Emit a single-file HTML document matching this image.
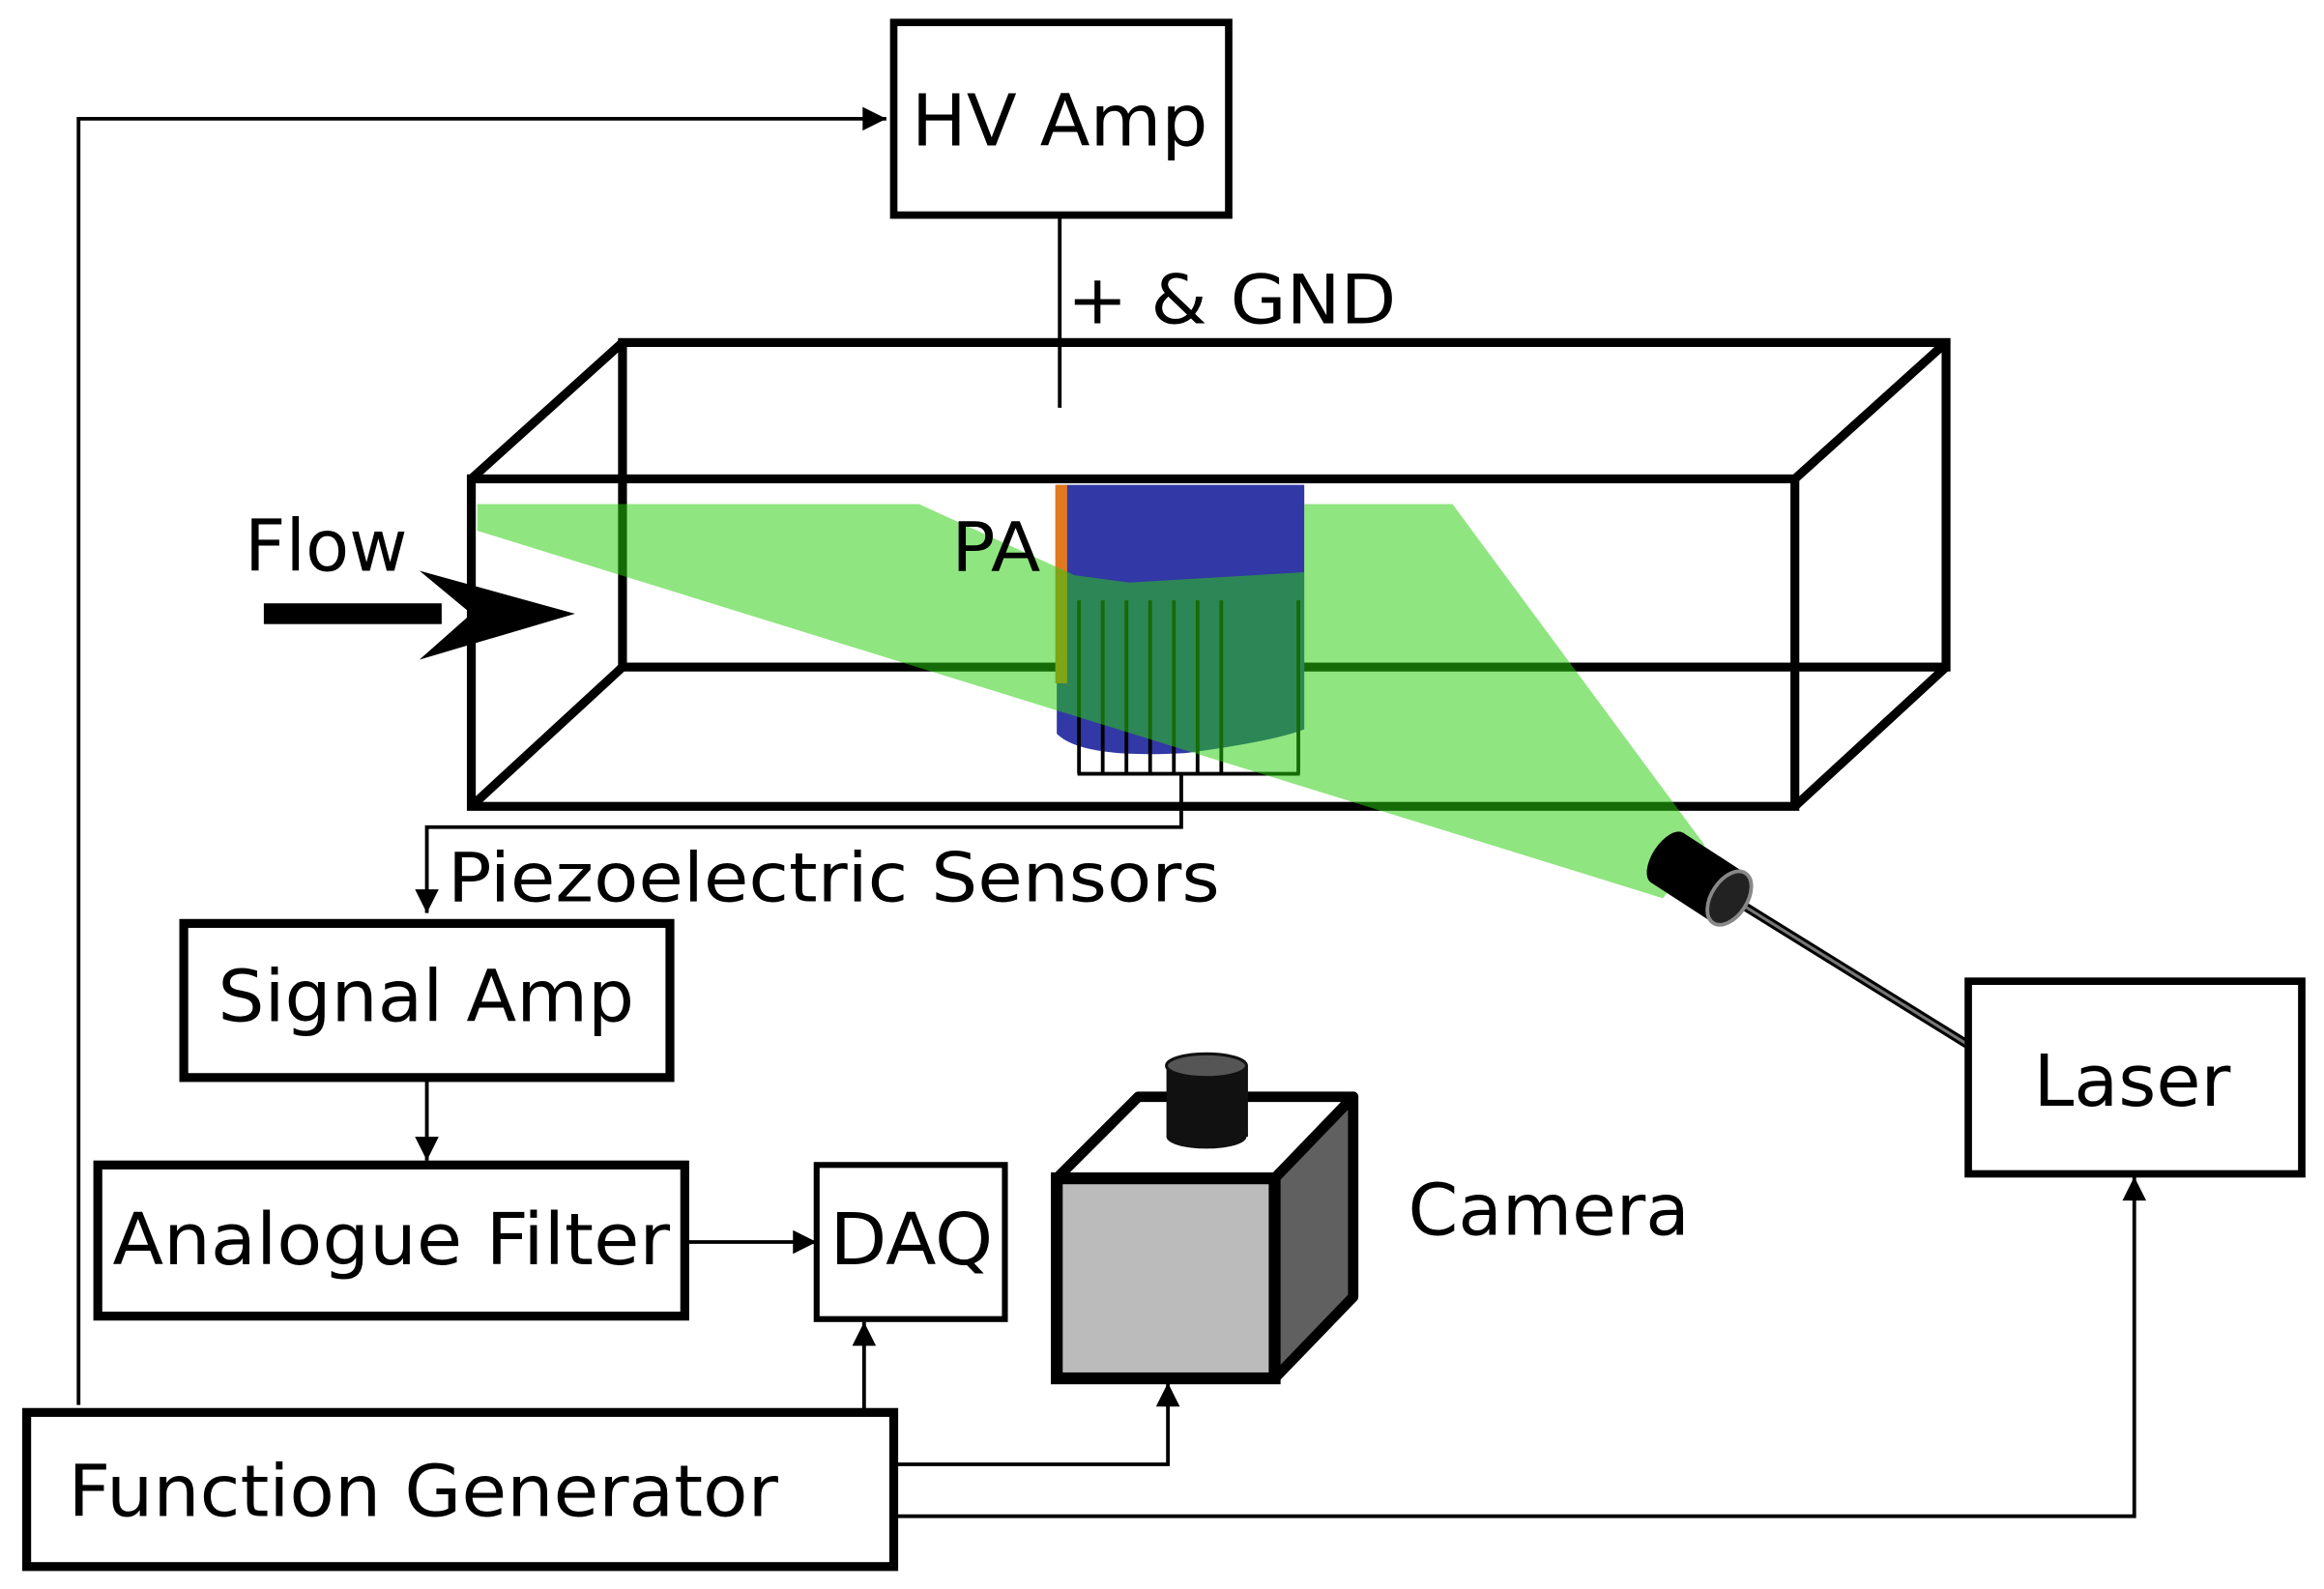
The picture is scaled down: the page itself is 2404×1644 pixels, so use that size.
<!DOCTYPE html>
<html><head><meta charset="utf-8"><style>html,body{margin:0;padding:0;background:#fff}svg{display:block}</style></head>
<body>
<svg width="2404" height="1644" viewBox="0 0 1568 1072" xmlns="http://www.w3.org/2000/svg" font-family="'DejaVu Sans','Liberation Sans',sans-serif">
<defs>
<marker id="ah2" viewBox="0 0 10 10" refX="10" refY="5" markerWidth="18" markerHeight="16" markerUnits="userSpaceOnUse" orient="auto"><path d="M0,0 L10,5 L0,10 z" fill="#000"/></marker>
</defs>
<g fill="none" stroke="#000" stroke-width="2.5">
<polyline points="53,948 53,80 598,80" marker-end="url(#ah2)"/>
<line x1="715" y1="145" x2="715" y2="275"/>
<polyline points="797,522 797,558 288,558 288,616" marker-end="url(#ah2)"/>
<line x1="288" y1="727" x2="288" y2="783" marker-end="url(#ah2)"/>
<line x1="462" y1="838" x2="551" y2="838" marker-end="url(#ah2)"/>
<line x1="583" y1="953" x2="583" y2="892" marker-end="url(#ah2)"/>
<polyline points="603,988 788,988 788,933" marker-end="url(#ah2)"/>
<polyline points="603,1023 1440,1023 1440,794" marker-end="url(#ah2)"/>
</g>
<rect x="603" y="15" width="226" height="130" fill="#fff" stroke="#000" stroke-width="5"/>
<text x="615" y="98" font-size="48" textLength="200" lengthAdjust="spacingAndGlyphs">HV Amp</text>
<text x="720" y="218" font-size="46" textLength="222" lengthAdjust="spacingAndGlyphs">+ &amp; GND</text>
<g fill="none" stroke="#000" stroke-width="6">
<rect x="420" y="231" width="893" height="219"/>
<rect x="318" y="323" width="893" height="221"/>
<line x1="318" y1="323" x2="420" y2="231"/>
<line x1="1211" y1="323" x2="1313" y2="231"/>
<line x1="318" y1="544" x2="420" y2="450"/>
<line x1="1211" y1="544" x2="1313" y2="450"/>
</g>
<path d="M713,327 H880 V492 Q860,500 800,508 Q730,512 713,495 Z" fill="#3239a6"/>
<rect x="712" y="327" width="8" height="134" fill="#e07820"/>
<g stroke="#000" stroke-width="2.5" fill="none">
<line x1="728" y1="405" x2="728" y2="522"/><line x1="744" y1="405" x2="744" y2="522"/><line x1="760" y1="405" x2="760" y2="522"/><line x1="776" y1="405" x2="776" y2="522"/><line x1="792" y1="405" x2="792" y2="522"/><line x1="808" y1="405" x2="808" y2="522"/><line x1="824" y1="405" x2="824" y2="522"/><line x1="876" y1="405" x2="876" y2="522"/>
<line x1="727" y1="522" x2="877" y2="522"/>
</g>
<path d="M322,340 L620,340 L725,388 L762,393 L880,386 L880,340 L980,340 L1150,570 L1122,606 L322,358 Z" fill="rgb(40,206,12)" fill-opacity="0.52"/>
<text x="642" y="385" font-size="46" textLength="60" lengthAdjust="spacingAndGlyphs">PA</text>
<text x="165" y="385" font-size="48" textLength="110" lengthAdjust="spacingAndGlyphs">Flow</text>
<rect x="178" y="407" width="120" height="14" fill="#000"/>
<path d="M283,385 L388,414 L283,445 L318,414 Z" fill="#000"/>
<text x="302" y="608" font-size="46" textLength="521" lengthAdjust="spacingAndGlyphs">Piezoelectric Sensors</text>
<line x1="1178" y1="612" x2="1328" y2="705" stroke="#000" stroke-width="6"/>
<line x1="1178" y1="612" x2="1328" y2="705" stroke="#777" stroke-width="2"/>
<g transform="translate(1150,595) rotate(33)">
<rect x="-30" y="-20" width="50" height="40" fill="#000"/>
<ellipse cx="-30" cy="0" rx="10" ry="20" fill="#000"/>
<ellipse cx="20" cy="0" rx="12" ry="20" fill="#222" stroke="#888" stroke-width="2.5"/>
</g>
<rect x="124" y="623" width="328" height="104" fill="#fff" stroke="#000" stroke-width="6"/>
<text x="147" y="689" font-size="48" textLength="281" lengthAdjust="spacingAndGlyphs">Signal Amp</text>
<rect x="66" y="786" width="396" height="102" fill="#fff" stroke="#000" stroke-width="6"/>
<text x="76" y="853" font-size="48" textLength="376" lengthAdjust="spacingAndGlyphs">Analogue Filter</text>
<rect x="551" y="786" width="127" height="104" fill="#fff" stroke="#000" stroke-width="4"/>
<text x="560" y="853" font-size="48" textLength="110" lengthAdjust="spacingAndGlyphs">DAQ</text>
<rect x="18" y="953" width="585" height="104" fill="#fff" stroke="#000" stroke-width="6"/>
<text x="46" y="1023" font-size="48" textLength="479" lengthAdjust="spacingAndGlyphs">Function Generator</text>
<rect x="1328" y="662" width="225" height="130" fill="#fff" stroke="#000" stroke-width="5"/>
<text x="1372" y="746" font-size="48" textLength="133" lengthAdjust="spacingAndGlyphs">Laser</text>
<polygon points="713,795 768,740 913,740 860,795" fill="#fff" stroke="#000" stroke-width="7" stroke-linejoin="round"/>
<polygon points="860,795 913,740 913,875 860,930" fill="#606060" stroke="#000" stroke-width="7" stroke-linejoin="round"/>
<rect x="713" y="795" width="147" height="135" fill="#bbb" stroke="#000" stroke-width="8"/>
<rect x="787" y="719" width="55" height="48" fill="#111"/>
<ellipse cx="814" cy="767" rx="27" ry="8" fill="#111"/>
<ellipse cx="814" cy="719" rx="27" ry="8" fill="#555" stroke="#111" stroke-width="2"/>
<text x="950" y="833" font-size="48" textLength="190" lengthAdjust="spacingAndGlyphs">Camera</text>
</svg>
</body></html>
